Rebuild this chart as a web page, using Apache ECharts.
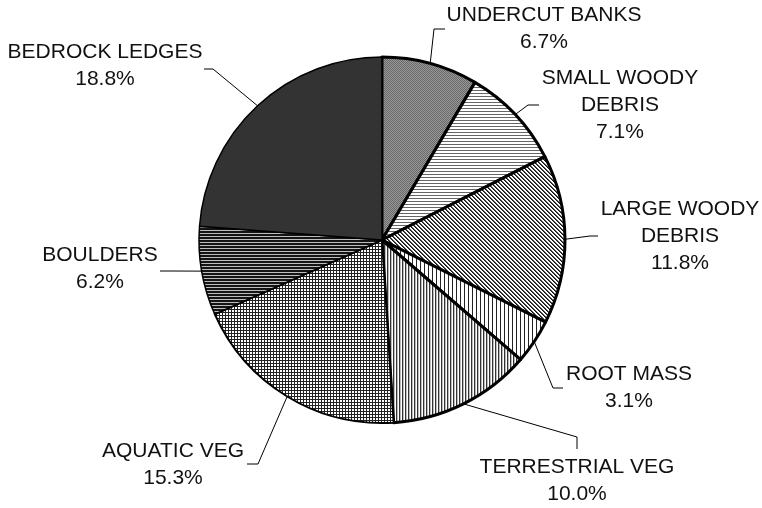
<!DOCTYPE html>
<html>
<head>
<meta charset="utf-8">
<script src="https://cdn.jsdelivr.net/npm/echarts@6/dist/echarts.min.js"></script>
<style>
  html, body { margin: 0; padding: 0; background: #fff; }
  #chart { width: 762px; height: 508px; }
</style>
</head>
<body>
<div id="chart"></div>
<script>
// habitat categories, clockwise from 12 o'clock
var categories = ['UNDERCUT BANKS', 'SMALL WOODY\nDEBRIS', 'LARGE WOODY\nDEBRIS', 'ROOT MASS',
    'TERRESTRIAL VEG', 'AQUATIC VEG', 'BOULDERS', 'BEDROCK LEDGES'];
var percents = [6.7, 7.1, 11.8, 3.1, 10.0, 15.3, 6.2, 18.8];

// label placement (centre of text block) and leader knee / end points
var labelPos = [[544, 29], [620, 105], [680, 236], [629, 388], [577, 481], [173, 465], [100, 269], [105, 66]];
var leaderPts = [
    [[434, 29], [445, 29]],
    [[528, 105], [539, 105]],
    [[590, 236], [598, 236]],
    [[553, 388], [563, 388]],
    [[577, 437], [577, 449]],
    [[258, 464], [247, 464]],
    [[173, 271], [160, 271]],
    [[213, 69], [204, 69]]
];
var borderW = [3, 3, 3, 3, 3, 2, 1.5, 1.5];

function tile(w, h, fn) {
    var c = document.createElement('canvas');
    c.width = w; c.height = h;
    var ctx = c.getContext('2d');
    ctx.fillStyle = '#fff';
    ctx.fillRect(0, 0, w, h);
    for (var x = 0; x < w; x++) {
        for (var y = 0; y < h; y++) {
            var col = fn(x, y);
            if (col) { ctx.fillStyle = col; ctx.fillRect(x, y, 1, 1); }
        }
    }
    return { image: c, repeat: 'repeat' };
}

var fills = [
    tile(2, 2, function (x, y) { return (x + y) % 2 ? '#9a9a9a' : '#676767'; }),
    tile(4, 3, function (x, y) { return y == 0 ? '#666' : null; }),
    tile(4, 4, function (x, y) { var d = (x - y + 8) % 4; return d == 0 ? '#111' : (d == 1 ? '#555' : null); }),
    tile(4, 1, function (x, y) { return x == 0 ? '#222' : null; }),
    tile(3, 1, function (x, y) { return x == 0 ? '#333' : (x == 1 ? '#bbb' : null); }),
    tile(3, 3, function (x, y) { return (x == 0 || y == 0) ? '#222' : null; }),
    tile(1, 3, function (x, y) { return y == 2 ? '#bdbdbd' : '#141414'; }),
    '#333333'
];

var seriesData = [];
for (var i = 0; i < categories.length; i++) {
    seriesData.push({
        name: categories[i],
        value: percents[i],
        itemStyle: { color: fills[i], borderColor: '#000', borderWidth: borderW[i] }
    });
}

var myChart = echarts.init(document.getElementById('chart'));
var option = {
    animation: false,
    backgroundColor: '#fff',
    series: [{
        type: 'pie',
        center: [382, 240],
        radius: 183,
        startAngle: 90,
        clockwise: true,
        avoidLabelOverlap: false,
        data: seriesData,
        label: {
            show: true,
            position: 'outside',
            color: '#111',
            fontFamily: 'Liberation Sans, Arial, sans-serif',
            fontSize: 21,
            lineHeight: 27,
            align: 'center',
            formatter: function (p) {
                return p.name + '\n' + p.value.toFixed(1) + '%';
            }
        },
        labelLine: {
            show: true,
            length: 10,
            length2: 10,
            lineStyle: { color: '#000', width: 1 }
        },
        labelLayout: function (params) {
            var i = params.dataIndex;
            var res = {
                x: labelPos[i][0],
                y: labelPos[i][1],
                align: 'center',
                verticalAlign: 'middle'
            };
            if (params.labelLinePoints) {
                res.labelLinePoints = [params.labelLinePoints[0], leaderPts[i][0], leaderPts[i][1]];
            }
            return res;
        },
        emphasis: { disabled: true }
    }]
};
myChart.setOption(option);
</script>
</body>
</html>
